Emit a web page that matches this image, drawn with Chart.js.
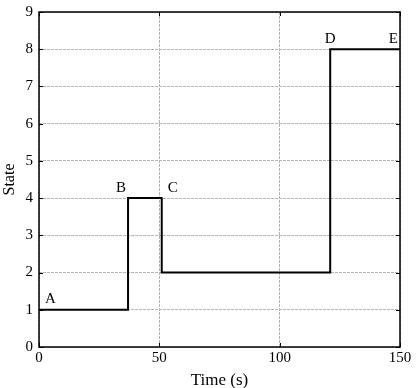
<!DOCTYPE html>
<html>
<head>
<meta charset="utf-8">
<script src="https://cdn.jsdelivr.net/npm/chart.js@4/dist/chart.umd.min.js"></script>
<style>
  html, body { margin: 0; padding: 0; background: #fff; }
  #wrap { width: 419px; height: 388px; }
</style>
</head>
<body>
<div id="wrap"><canvas id="stateChart"></canvas></div>
<script>
// データ
const times  = [0, 37, 51, 121, 150];
const states = [1, 4, 2, 8, 8];
const pointNames  = ['A', 'B', 'C', 'D', 'E'];
const pointTimes  = [0, 37, 51, 121, 150];
const pointStates = [1, 4, 4, 8, 8];
const nameAlign   = ['left', 'right', 'left', 'center', 'right'];
const xTicks = [0, 50, 100, 150];
const yTicks = [0, 1, 2, 3, 4, 5, 6, 7, 8, 9];

const FONT = '"Liberation Serif", "Times New Roman", serif';

// 枠・内向き目盛・点ラベル
const framePlugin = {
    id: 'frame',
    afterDraw(chart) {
        const ctx = chart.ctx;
        const a = chart.chartArea;
        const xs = chart.scales.x, ys = chart.scales.y;
        ctx.save();
        ctx.strokeStyle = '#000';
        ctx.lineWidth = 1;
        xTicks.forEach(function(t) {
            const px = Math.round(xs.getPixelForValue(t)) + 0.5;
            ctx.beginPath();
            ctx.moveTo(px, a.bottom); ctx.lineTo(px, a.bottom - 4);
            ctx.moveTo(px, a.top); ctx.lineTo(px, a.top + 4);
            ctx.stroke();
        });
        yTicks.forEach(function(t) {
            const py = Math.round(ys.getPixelForValue(t)) + 0.5;
            ctx.beginPath();
            ctx.moveTo(a.left, py); ctx.lineTo(a.left + 4, py);
            ctx.moveTo(a.right, py); ctx.lineTo(a.right - 4, py);
            ctx.stroke();
        });
        ctx.lineWidth = 1.5;
        ctx.strokeRect(a.left, a.top, a.right - a.left, a.bottom - a.top);

        ctx.fillStyle = '#000';
        ctx.font = '15px ' + FONT;
        ctx.textBaseline = 'bottom';
        for (let i = 0; i < pointNames.length; i++) {
            let px = xs.getPixelForValue(pointTimes[i]);
            const py = ys.getPixelForValue(pointStates[i]) - 3;
            if (nameAlign[i] === 'left') px += 6;
            if (nameAlign[i] === 'right') px -= 2;
            ctx.textAlign = nameAlign[i];
            ctx.fillText(pointNames[i], px, py);
        }
        ctx.restore();
    }
};

const ctx = document.getElementById('stateChart').getContext('2d');
new Chart(ctx, {
    type: 'line',
    data: {
        datasets: [{
            data: times.map(function(t, i) { return { x: t, y: states[i] }; }),
            stepped: true,
            borderColor: '#000',
            borderWidth: 2,
            pointRadius: 0,
            fill: false
        }]
    },
    options: {
        responsive: true,
        maintainAspectRatio: false,
        animation: false,
        layout: { padding: { top: 12, right: 19, left: 0, bottom: 0 } },
        plugins: { legend: { display: false }, tooltip: { enabled: false } },
        scales: {
            x: {
                type: 'linear',
                min: 0, max: 150,
                afterBuildTicks(s) { s.ticks = xTicks.map(function(v) { return { value: v }; }); },
                afterFit(s) { s.height = 41; },
                grid: { color: '#b4b4b4', lineWidth: 1, drawTicks: false },
                border: { display: false, dash: [3, 1] },
                ticks: { color: '#000', padding: 2, maxRotation: 0, font: { family: FONT, size: 15 } },
                title: { display: true, text: 'Time (s)', color: '#000', padding: { top: 0, bottom: -3 }, font: { family: FONT, size: 17 } }
            },
            y: {
                min: 0, max: 9,
                afterBuildTicks(s) { s.ticks = yTicks.map(function(v) { return { value: v }; }); },
                afterFit(s) { s.width = 39; s.paddingTop = 0; s.paddingBottom = 0; },
                grid: { color: '#b4b4b4', lineWidth: 1, drawTicks: false },
                border: { display: false, dash: [3, 1] },
                ticks: { color: '#000', padding: 6, font: { family: FONT, size: 15 } },
                title: { display: true, text: 'State', color: '#000', padding: 0, font: { family: FONT, size: 16 } }
            }
        }
    },
    plugins: [framePlugin]
});
</script>
</body>
</html>
